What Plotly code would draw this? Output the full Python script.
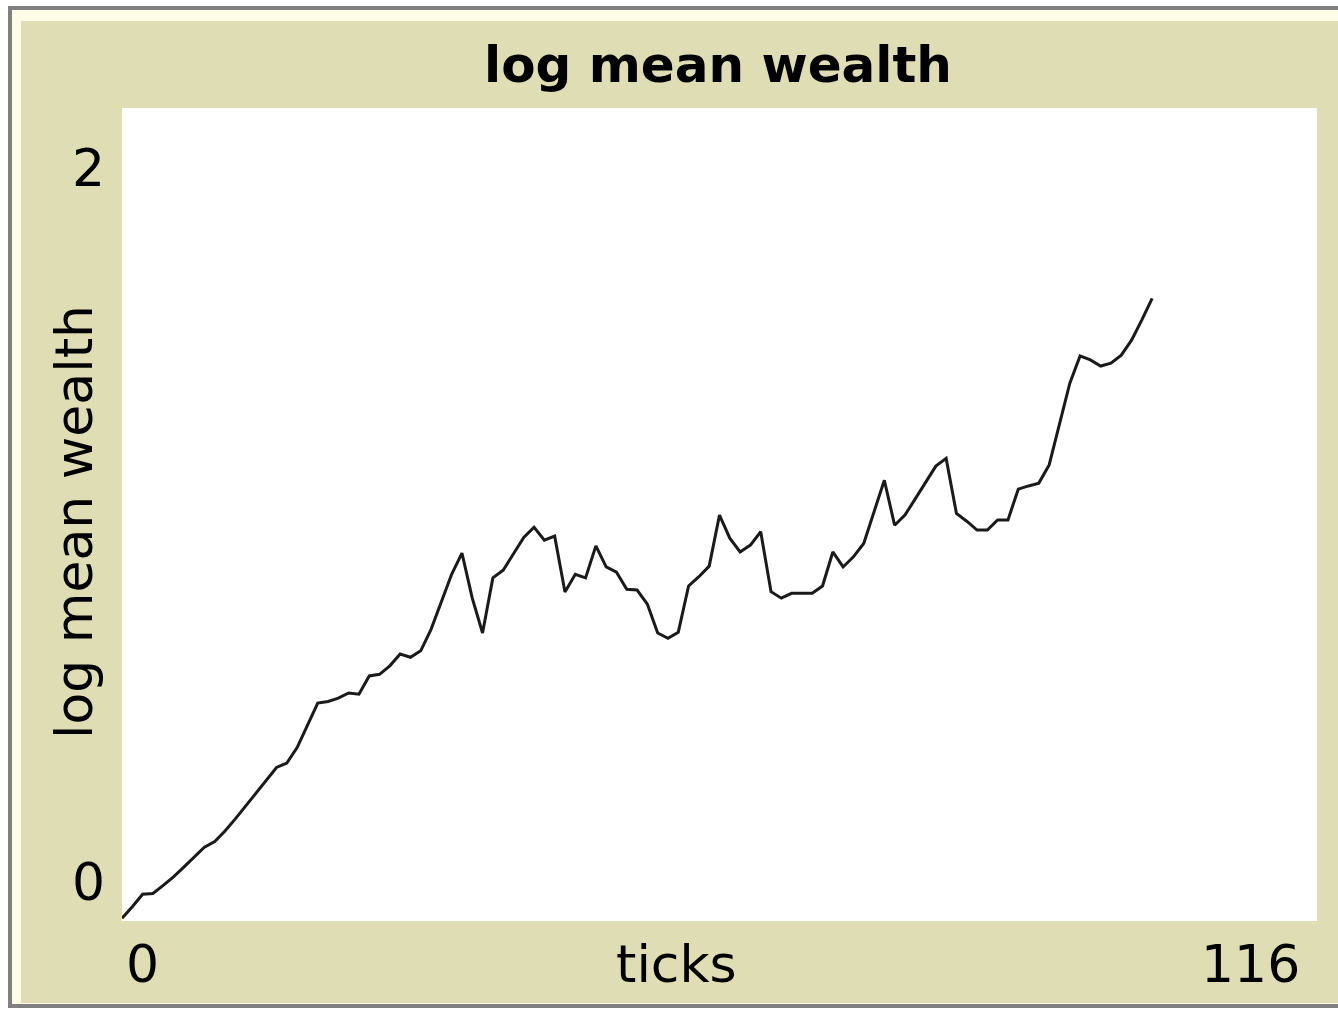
import plotly.graph_objects as go

# NetLogo style plot: log mean wealth over ticks
ticks = list(range(0, 101))
log_mean_wealth = [
    0.000, 0.028, 0.059, 0.061, 0.081, 0.102, 0.126, 0.150, 0.175, 0.189,
    0.215, 0.245, 0.277, 0.309, 0.341, 0.372, 0.383, 0.421, 0.476, 0.531,
    0.535, 0.543, 0.556, 0.553, 0.598, 0.602, 0.623, 0.652, 0.644, 0.660,
    0.713, 0.781, 0.849, 0.901, 0.790, 0.704, 0.840, 0.859, 0.899, 0.940,
    0.965, 0.933, 0.943, 0.805, 0.849, 0.840, 0.919, 0.867, 0.854, 0.812,
    0.810, 0.775, 0.704, 0.691, 0.706, 0.820, 0.843, 0.869, 0.995, 0.938,
    0.904, 0.921, 0.954, 0.806, 0.790, 0.802, 0.802, 0.802, 0.820, 0.904,
    0.867, 0.892, 0.925, 1.005, 1.081, 0.970, 0.995, 1.035, 1.077, 1.116,
    1.135, 0.999, 0.980, 0.958, 0.958, 0.983, 0.983, 1.059, 1.067, 1.074,
    1.119, 1.219, 1.320, 1.388, 1.378, 1.363, 1.370, 1.390, 1.427, 1.477,
    1.530,
]

x_range = [0, 116]
y_range = [0, 2]
title_text = "log mean wealth"
x_title = "ticks"
y_title = "log mean wealth"

W, H = 1338, 1010
L, R, T, B = 122, 1317, 108, 921

BEIGE = "#DEDDB4"
CREAM = "#FDFCE6"
FRAME = "#808080"


def px(xp):
    return (xp - L) / (R - L)


def py(yp):
    return (B - yp) / (B - T)


fig = go.Figure()
fig.add_trace(go.Scatter(
    x=ticks, y=log_mean_wealth, mode="lines",
    line=dict(color="#1a1a1a", width=3),
    showlegend=False, hoverinfo="skip",
))

shapes = [
    # outer frame with light bevel
    dict(type="rect", xref="paper", yref="paper", layer="below",
         x0=px(10), x1=px(1360), y0=py(1006), y1=py(8),
         line=dict(color=FRAME, width=4), fillcolor=CREAM),
    dict(type="rect", xref="paper", yref="paper", layer="below",
         x0=px(21), x1=px(1360), y0=py(1003), y1=py(21),
         line=dict(width=0), fillcolor=BEIGE),
    # plot area
    dict(type="rect", xref="paper", yref="paper", layer="below",
         x0=0, x1=1, y0=0, y1=1,
         line=dict(width=0), fillcolor="white"),
]

font = "DejaVu Sans"
annotations = [
    dict(text=f"<b>{title_text}</b>", x=px(718), y=py(65), xref="paper", yref="paper",
         showarrow=False, font=dict(family=font, size=50, color="black"),
         xanchor="center", yanchor="middle"),
    dict(text=str(y_range[1]), x=px(88), y=py(168), xref="paper", yref="paper",
         showarrow=False, font=dict(family=font, size=52, color="black"),
         xanchor="center", yanchor="middle"),
    dict(text=str(y_range[0]), x=px(88), y=py(882), xref="paper", yref="paper",
         showarrow=False, font=dict(family=font, size=52, color="black"),
         xanchor="center", yanchor="middle"),
    dict(text=str(x_range[0]), x=px(124), y=py(964), xref="paper", yref="paper",
         showarrow=False, font=dict(family=font, size=52, color="black"),
         xanchor="left", yanchor="middle"),
    dict(text=str(x_range[1]), x=px(1302), y=py(964), xref="paper", yref="paper",
         showarrow=False, font=dict(family=font, size=52, color="black"),
         xanchor="right", yanchor="middle"),
    dict(text=x_title, x=px(676), y=py(964), xref="paper", yref="paper",
         showarrow=False, font=dict(family=font, size=52, color="black"),
         xanchor="center", yanchor="middle"),
    dict(text=y_title, x=px(74), y=py(522), xref="paper", yref="paper",
         showarrow=False, textangle=-90, font=dict(family=font, size=52, color="black"),
         xanchor="center", yanchor="middle"),
]

fig.update_layout(
    width=W, height=H,
    margin=dict(l=L, r=W - R, t=T, b=H - B),
    paper_bgcolor="white",
    plot_bgcolor="white",
    shapes=shapes,
    annotations=annotations,
    xaxis=dict(range=x_range, showgrid=False, zeroline=False, showticklabels=False,
               ticks="", showline=False, fixedrange=True),
    yaxis=dict(range=[-0.007, 2.0], showgrid=False, zeroline=False, showticklabels=False,
               ticks="", showline=False, fixedrange=True),
)

# the page body has a default 8px margin; drop it so the figure fills the window
fig.write_html("out.html", config={"displayModeBar": False},
               post_script="document.body.style.margin='0';")
